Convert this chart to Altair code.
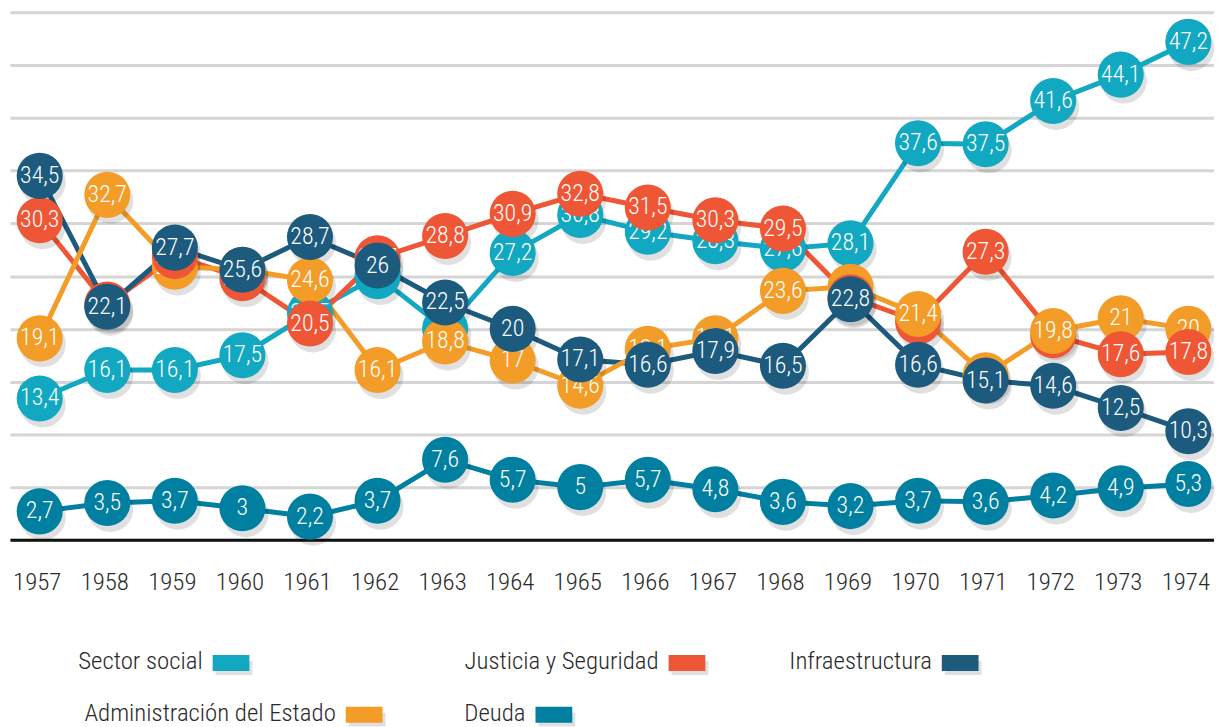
import altair as alt
import pandas as pd

years = list(range(1957, 1975))

series_names = ["Sector social", "Justicia y Seguridad", "Infraestructura",
                "Administración del Estado", "Deuda"]
series_colors = ["#12a8c1", "#ef5635", "#1c5a7e", "#f39c27", "#007fa0"]

sector_social = [13.4, 16.1, 16.1, 17.5, 21.5, 25.0, 20.0, 27.2, 30.8, 29.2, 28.3, 27.6,
                 28.1, 37.6, 37.5, 41.6, 44.1, 47.2]
justicia = [30.3, 22.3, 26.9, 24.8, 20.5, 26.7, 28.8, 30.9, 32.8, 31.5, 30.3, 29.5,
            23.0, 20.7, 27.3, 19.4, 17.6, 17.8]
infraestructura = [34.5, 22.1, 27.7, 25.6, 28.7, 26.0, 22.5, 20.0, 17.1, 16.6, 17.9, 16.5,
                   22.8, 16.6, 15.1, 14.6, 12.5, 10.3]
administracion = [19.1, 32.7, 25.9, 25.6, 24.6, 16.1, 18.8, 17.0, 14.6, 18.1, 19.1, 23.6,
                  24.0, 21.4, 15.6, 19.8, 21.0, 20.0]
deuda = [2.7, 3.5, 3.7, 3.0, 2.2, 3.7, 7.6, 5.7, 5.0, 5.7, 4.8, 3.6, 3.2, 3.7, 3.6, 4.2,
         4.9, 5.3]

# drawing order (bottom -> top) and years where Administración sits above Justicia
stack_order = ["Deuda", "Sector social", "Administración del Estado",
               "Justicia y Seguridad", "Infraestructura"]
admin_over_justicia = [1970, 1972]

values = {
    "Sector social": sector_social,
    "Justicia y Seguridad": justicia,
    "Infraestructura": infraestructura,
    "Administración del Estado": administracion,
    "Deuda": deuda,
}


def fmt(v):
    s = f"{v:.1f}"
    if s.endswith(".0"):
        s = s[:-2]
    return s.replace(".", ",")


rows = []
for name in series_names:
    for yr, v in zip(years, values[name]):
        z = stack_order.index(name) + 1
        if yr in admin_over_justicia:
            if name == "Administración del Estado":
                z = 4
            elif name == "Justicia y Seguridad":
                z = 3
        rows.append({"year": yr, "value": v, "series": name, "label": fmt(v), "z": z})
df = pd.DataFrame(rows)

FONT = "Roboto Condensed, Liberation Sans Narrow, DejaVu Sans Condensed, sans-serif"
W, H = 1212, 531
R2 = 2150

color = alt.Color("series:N", scale=alt.Scale(domain=series_names, range=series_colors),
                  legend=None)
x = alt.X("year:Q",
          scale=alt.Scale(domain=[1956.56, 1974.38], nice=False, zero=False),
          axis=alt.Axis(values=years, format="d", title=None, grid=False, ticks=False,
                        domainColor="#111111", domainWidth=3, labelFont=FONT,
                        labelFontSize=25, labelFontWeight=300, labelColor="#2a2a2a",
                        labelPadding=30, labelFlush=False, labelOffset=-3))
y = alt.Y("value:Q", scale=alt.Scale(domain=[0, 50], nice=False),
          axis=alt.Axis(values=list(range(0, 55, 5)), labels=False, ticks=False,
                        domain=False, title=None, gridColor="#d5d5d5", gridWidth=3))

base = alt.Chart(df)

lines = base.mark_line(strokeWidth=5).encode(x=x, y=y, color=color, detail="series:N")
shadows = base.mark_circle(size=R2, color="#000000", opacity=0.12, xOffset=3,
                           yOffset=6).encode(x=x, y=y)

layers = [lines, shadows]
for k in range(1, 6):
    sub = base.transform_filter(alt.datum.z == k)
    layers.append(sub.mark_circle(size=R2, opacity=1).encode(x=x, y=y, color=color))
    layers.append(sub.mark_text(color="white", font=FONT, fontSize=24, fontWeight=300,
                                align="center", baseline="middle").encode(
        x=x, y=y, text="label:N"))

# legend (text first, swatch to its right)
legend_rows = [
    ("Sector social", 204, 647),
    ("Justicia y Seguridad", 663, 647),
    ("Infraestructura", 938, 647),
    ("Administración del Estado", 338, 699),
    ("Deuda", 529, 699),
]
for name, sx, sy in legend_rows:
    c = series_colors[series_names.index(name)]
    ldf = pd.DataFrame({"name": [name]})
    layers.append(alt.Chart(ldf).mark_rect(color="#000000", opacity=0.12).encode(
        x=alt.value(sx + 3), x2=alt.value(sx + 40), y=alt.value(sy + 6),
        y2=alt.value(sy + 20)))
    layers.append(alt.Chart(ldf).mark_rect(color=c).encode(
        x=alt.value(sx), x2=alt.value(sx + 37), y=alt.value(sy), y2=alt.value(sy + 16)))
    layers.append(alt.Chart(ldf).mark_text(align="right", baseline="alphabetic",
                                           font=FONT, fontSize=25, fontWeight=300,
                                           color="#2a2a2a").encode(
        x=alt.value(sx - 10), y=alt.value(sy + 14), text="name:N"))

chart = alt.layer(*layers).properties(
    width=W, height=H,
    autosize=alt.AutoSizeParams(type="none"),
    padding={"left": 2, "top": 2, "right": 0, "bottom": 186},
).configure_view(stroke=None)

chart.save("out.html", embed_options={"renderer": "svg", "actions": False})
